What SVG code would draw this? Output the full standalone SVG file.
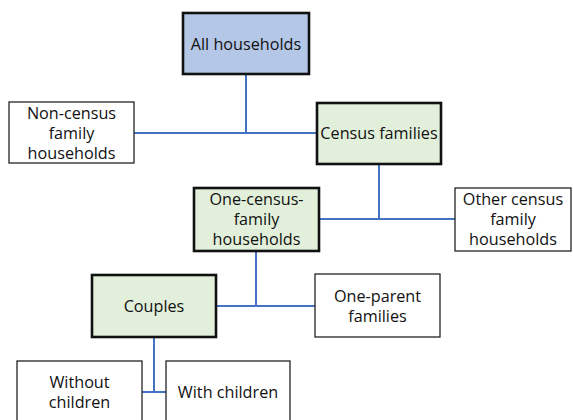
<svg xmlns="http://www.w3.org/2000/svg" width="573" height="420" viewBox="0 0 573 420">
<style>
.box{fill:#fff;stroke:#222;stroke-width:1.3}
.main{stroke:#111;stroke-width:2.6}
.blue{fill:#b4c7e7}
.green{fill:#e2efda}
.conn{stroke:#4472c4;stroke-width:2;fill:none}
text{font-family:"Open Sans","Liberation Sans",sans-serif;font-size:16.2px;fill:#111;text-anchor:middle;dominant-baseline:central}
</style>
<rect width="573" height="420" fill="#fff"/>
<g id="connectors">
<path class="conn" d="M246 74V133M134 133H317"/>
<path class="conn" d="M379 164V219M319 219H455"/>
<path class="conn" d="M256 251V306M216 306H315"/>
<path class="conn" d="M154 337V392M142 392H166"/>
</g>
<g id="all-households"><rect class="box main blue" x="183" y="13" width="126" height="61"/><text x="246" y="44">All households</text></g>
<g id="non-census"><rect class="box" x="9" y="102" width="125" height="61"/><text x="71.5" y="113">Non-census</text><text x="71.5" y="133">family</text><text x="71.5" y="153">households</text></g>
<g id="census-families"><rect class="box main green" x="317" y="103" width="124" height="61"/><text x="379" y="133">Census families</text></g>
<g id="one-census"><rect class="box main green" x="194" y="188" width="125" height="63"/><text x="256.5" y="199">One-census-</text><text x="256.5" y="219">family</text><text x="256.5" y="239">households</text></g>
<g id="other-census"><rect class="box" x="455" y="188" width="116" height="63"/><text x="513" y="199">Other census</text><text x="513" y="219">family</text><text x="513" y="239">households</text></g>
<g id="couples"><rect class="box main green" x="92" y="275" width="124" height="62"/><text x="154" y="306">Couples</text></g>
<g id="one-parent"><rect class="box" x="315" y="274" width="125" height="63"/><text x="377.5" y="296">One-parent</text><text x="377.5" y="316">families</text></g>
<g id="without-children"><rect class="box" x="17" y="361" width="125" height="70"/><text x="79.5" y="382">Without</text><text x="79.5" y="402">children</text></g>
<g id="with-children"><rect class="box" x="166" y="361" width="124" height="70"/><text x="228" y="392">With children</text></g>
</svg>
